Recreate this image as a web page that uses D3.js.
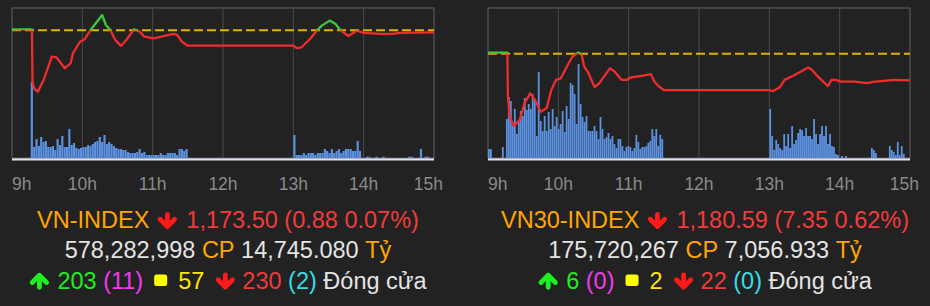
<!DOCTYPE html>
<html>
<head>
<meta charset="utf-8">
<title>VN-INDEX / VN30-INDEX</title>
<script src="https://cdn.jsdelivr.net/npm/d3@7"></script>
<style>
  body { margin: 0; background: #222222; }
  svg { display: block; }
  text { font-family: "Liberation Sans", Arial, sans-serif; }
</style>
</head>
<body>
<div id="chart"></div>
<script>
    // x axis: minutes after 9:00
    var hourTicks = [0, 60, 120, 180, 240, 300, 360];
    var hourLabels = ["9h", "10h", "11h", "12h", "13h", "14h", "15h"];

    // ---- VN-INDEX ----
    var vnRef = 1174.38;
    var vnTime = [0, 17, 17.5, 19, 22, 27, 34, 38, 45, 50, 52, 58, 62, 67, 77, 80, 84, 88, 93, 98,
        104, 109, 113, 121, 129, 138, 141, 145, 150, 240, 243, 247, 254, 260, 264, 271, 276, 280, 287, 294,
        300, 314, 325, 330, 360];
    var vnPrice = [1174.8, 1174.8, 1152.0, 1149.0, 1147.7, 1152.8, 1162.9, 1162.6, 1157.9, 1160.0,
        1164.4, 1169.4, 1170.5, 1174.5, 1181.0, 1176.7, 1174.5, 1170.2, 1167.6, 1170.5,
        1174.8, 1173.8, 1171.6, 1170.9, 1171.9, 1172.8, 1172.3, 1169.4, 1167.7, 1167.7,
        1166.6, 1167.0, 1170.5, 1174.2, 1176.3, 1178.6, 1177.1, 1174.5, 1171.9, 1174.2,
        1173.3, 1172.8, 1172.8, 1173.3, 1173.5];
    // volume bars (relative units), one bar every 2 minutes
    var vnVolAMStart = 16, vnVolPMStart = 240, vnVolStep = 2;
    var vnVolAM = [76, 11, 19, 12, 21, 16, 17, 11, 11, 12, 8, 19, 13, 22, 11, 11, 29, 13, 15, 10,
        9, 10, 11, 11, 13, 12, 14, 16, 17, 21, 16, 23, 14, 16, 14, 12, 10, 9, 9, 8,
        8, 6, 5, 5, 5, 6, 9, 5, 6, 3, 3, 3, 3, 3, 3, 5, 3, 3, 5, 5,
        5, 5, 3, 9, 9, 7, 9];
    var vnVolPM = [23, 3, 3, 3, 5, 3, 5, 5, 5, 3, 5, 5, 5, 9, 7, 5, 9, 5, 7, 9,
        5, 7, 9, 9, 9, 7, 7, 17, 7, 0, 0, 1.3, 1.3, 0, 0, 1.3, 0, 0, 1.3, 0,
        0, 0, 0, 0, 0, 0, 0, 0, 0, 1.3, 1.3, 0, 0, 0, 9, 0, 1.3, 1.3];
    var vnName = "VN-INDEX", vnClose = "1,173.50", vnChange = "(0.88 0.07%)";
    var vnShares = "578,282,998", vnValue = "14,745.080";
    var vnBreadth = ["203", "(11)", "57", "230", "(2)"];

    // ---- VN30-INDEX ----
    var vn30Ref = 1187.94;
    var vn30Time = [0, 16.5, 17, 18.5, 22, 27, 31, 36, 40, 45, 50, 54, 58, 62, 68, 72, 77, 80, 82, 85,
        91, 95, 104, 108, 114, 118, 122, 131, 139, 142, 146, 150, 240, 243, 249, 253, 260, 267, 273, 276,
        283, 290, 293, 297, 301, 313, 323, 330, 347, 360];
    var vn30Price = [1188.2, 1188.2, 1176.1, 1170.5, 1168.0, 1169.6, 1174.2, 1177.0, 1175.2, 1171.9,
        1172.9, 1177.9, 1180.7, 1181.1, 1184.8, 1187.1, 1188.3, 1187.6, 1184.4, 1183.0,
        1178.7, 1179.8, 1183.9, 1183.0, 1180.7, 1180.7, 1181.4, 1181.8, 1182.3, 1180.2,
        1178.8, 1177.9, 1177.9, 1177.6, 1178.7, 1180.7, 1181.8, 1183.0, 1184.1, 1183.6,
        1181.1, 1179.0, 1180.7, 1180.7, 1180.2, 1180.2, 1179.8, 1180.2, 1180.7, 1180.59];
    var vn30VolAMStart = 0, vn30VolPMStart = 240, vn30VolStep = 1.7;
    var vn30VolAM = [9, 9, 0, 0, 0, 0, 0, 11, 0,
        39, 61, 57, 32, 49, 24, 37, 47, 42, 60, 48, 54, 49, 64, 57, 22, 86, 37, 27, 42,
        27, 46, 29, 49, 32, 41, 29, 34, 47, 26, 52, 39, 75, 73, 64, 34, 94, 54, 41, 36,
        42, 27, 27, 27, 32, 27, 19, 41, 29, 19, 21, 25, 19, 22, 14, 10, 19, 19, 12, 7,
        11, 12, 11, 7, 10, 23, 16, 9, 11, 11, 12, 15, 17, 29, 22, 29, 12, 23, 19];
    var vn30VolPM = [49, 22, 8, 18, 14, 10, 8, 24, 12, 24, 10, 32, 14, 18, 25, 29, 28, 22, 30, 22,
        22, 19, 39, 24, 14, 24, 32, 22, 32, 14, 24, 12, 11, 4, 3, 0, 2, 0, 2, 0,
        0, 0, 0, 0, 0, 0, 0, 0, 0, 0, 0, 10, 8, 5, 0, 0, 0, 0, 0, 0,
        12, 8, 6, 3, 16, 3, 12, 4];
    var vn30Name = "VN30-INDEX", vn30Close = "1,180.59", vn30Change = "(7.35 0.62%)";
    var vn30Shares = "175,720,267", vn30Value = "7,056.933";
    var vn30Breadth = ["6", "(0)", "2", "22", "(0)"];

    var ORANGE = "#ffa500", RED = "#f23b3b", WHITE = "#e4e4e4", GREEN = "#1ef01e",
        MAGENTA = "#f03cf0", YELLOW = "#ffe600", CYAN = "#36dde6";

    var svg = d3.select("#chart").append("svg")
        .attr("width", 930)
        .attr("height", 306);

    svg.append("rect").attr("width", 930).attr("height", 306).attr("fill", "#222222");

    function drawPanel(id, left, right, ref, priceDomain, times, prices, volSets) {
        var top = 8, bottom = 158;
        var g = svg.append("g");

        var x = d3.scaleLinear().domain([0, 360]).range([left, right]);
        var y = d3.scaleLinear().domain(priceDomain).range([bottom, top]);
        var yVol = d3.scaleLinear().domain([0, 150]).range([bottom, top]);

        // grid lines
        g.selectAll(".grid")
            .data(hourTicks.slice(1, -1))
            .enter().append("line")
            .attr("x1", d => x(d)).attr("x2", d => x(d))
            .attr("y1", top).attr("y2", bottom)
            .attr("stroke", "#4a4a4a")
            .attr("stroke-width", 1);

        // frame
        g.append("rect")
            .attr("x", left).attr("y", top)
            .attr("width", right - left).attr("height", bottom - top)
            .attr("fill", "none")
            .attr("stroke", "#4d4d4d")
            .attr("stroke-width", 1.5);

        // volume bars
        volSets.forEach(function(set) {
            var w = x(set.step) - x(0);
            g.append("g").selectAll("rect")
                .data(set.values)
                .enter().append("rect")
                .attr("x", (d, i) => x(set.start + i * set.step))
                .attr("y", d => yVol(d))
                .attr("width", Math.max(1, w - 0.2))
                .attr("height", d => bottom - yVol(d))
                .attr("fill", "#5c92e2");
        });

        // bottom light axis
        g.append("rect")
            .attr("x", left).attr("y", bottom + 0.3)
            .attr("width", right - left).attr("height", 2.2)
            .attr("fill", "#dde2ee");

        // reference (dashed)
        g.append("line")
            .attr("x1", left).attr("x2", right)
            .attr("y1", y(ref)).attr("y2", y(ref))
            .attr("stroke", "#e6b000")
            .attr("stroke-width", 2)
            .attr("stroke-dasharray", "9,4");

        // price line: green above ref, red below
        var yr = y(ref);
        var defs = svg.append("defs");
        defs.append("clipPath").attr("id", id + "-up")
            .append("rect").attr("x", left).attr("y", 0).attr("width", right - left).attr("height", yr);
        defs.append("clipPath").attr("id", id + "-down")
            .append("rect").attr("x", left).attr("y", yr).attr("width", right - left).attr("height", 306 - yr);

        var pts = times.map((t, i) => [t, prices[i]]);
        var line = d3.line().x(d => x(d[0])).y(d => y(d[1]));

        g.append("path").datum(pts)
            .attr("d", line)
            .attr("fill", "none")
            .attr("stroke", "#3ec83e")
            .attr("stroke-width", 2.3)
            .attr("stroke-linejoin", "round")
            .attr("clip-path", "url(#" + id + "-up)");
        g.append("path").datum(pts)
            .attr("d", line)
            .attr("fill", "none")
            .attr("stroke", "#f02c2c")
            .attr("stroke-width", 2.3)
            .attr("stroke-linejoin", "round")
            .attr("clip-path", "url(#" + id + "-down)");

        // hour labels
        g.selectAll(".hour")
            .data(hourTicks)
            .enter().append("text")
            .attr("x", (d, i) => i === 0 ? x(d) : (i === hourTicks.length - 1 ? x(d) + 9 : x(d)))
            .attr("y", 190)
            .attr("text-anchor", (d, i) => i === 0 ? "start" : (i === hourTicks.length - 1 ? "end" : "middle"))
            .attr("fill", "#8a8a8a")
            .style("font-size", "17.5px")
            .text((d, i) => hourLabels[i]);
    }

    // little icons used in the summary text
    function drawIcon(g, kind, x0, base, color) {
        if (kind === "down" || kind === "up") {
            var p = d3.path();
            var top = base - 15.5, bot = base + 0.8;
            if (kind === "down") {
                p.moveTo(x0 + 10, top + 2); p.lineTo(x0 + 10, bot - 2.5);
                p.moveTo(x0 + 2.8, bot - 9.5); p.lineTo(x0 + 10, bot - 2.3); p.lineTo(x0 + 17.2, bot - 9.5);
            } else {
                p.moveTo(x0 + 10, bot - 2); p.lineTo(x0 + 10, top + 2.5);
                p.moveTo(x0 + 2.8, top + 9.5); p.lineTo(x0 + 10, top + 2.3); p.lineTo(x0 + 17.2, top + 9.5);
            }
            g.append("path")
                .attr("d", p.toString())
                .attr("fill", "none")
                .attr("stroke", color)
                .attr("stroke-width", 4.8)
                .attr("stroke-linecap", "round")
                .attr("stroke-linejoin", "round");
        } else {
            g.append("rect")
                .attr("x", x0).attr("y", base - 14)
                .attr("width", 13).attr("height", 11.5)
                .attr("rx", 2.5)
                .attr("fill", color);
        }
    }

    var rowBase = [228, 258, 288.5];
    var fontSize = 23.5;

    function drawSummary(cx, rows) {
        var g = svg.append("g");
        rows.forEach(function(row, r) {
            var base = rowBase[r];
            var items = [];
            var prevText = false;
            row.forEach(function(seg) {
                if (seg.icon) {
                    items.push({seg: seg, gap: seg.padL, w: seg.w, after: seg.padR});
                    prevText = false;
                } else {
                    var t = g.append("text")
                        .attr("y", base)
                        .attr("fill", seg.color)
                        .style("font-size", fontSize + "px")
                        .text(seg.text);
                    items.push({seg: seg, node: t, gap: prevText ? fontSize * 0.278 : 0,
                        w: t.node().getComputedTextLength(), after: 0});
                    prevText = true;
                }
            });
            var total = d3.sum(items, d => d.gap + d.w + d.after);
            var cur = cx - total / 2;
            items.forEach(function(it) {
                cur += it.gap;
                if (it.node) it.node.attr("x", cur);
                else drawIcon(g, it.seg.icon, cur, base, it.seg.color);
                cur += it.w + it.after;
            });
        });
    }

    function summaryRows(name, close, change, shares, value, breadth) {
        return [
            [{text: name, color: ORANGE},
             {icon: "down", color: "#ff1a1a", w: 20, padL: 8, padR: 9},
             {text: close + " " + change, color: RED}],
            [{text: shares, color: WHITE}, {text: "CP", color: ORANGE},
             {text: value, color: WHITE}, {text: "Tỷ", color: ORANGE}],
            [{icon: "up", color: GREEN, w: 20, padL: 0, padR: 8},
             {text: breadth[0], color: GREEN}, {text: breadth[1], color: MAGENTA},
             {icon: "square", color: "#ffff00", w: 13, padL: 11, padR: 11},
             {text: breadth[2], color: YELLOW},
             {icon: "down", color: "#ff1a1a", w: 20, padL: 11, padR: 7},
             {text: breadth[3], color: RED}, {text: breadth[4], color: CYAN},
             {text: "Đóng cửa", color: WHITE}]
        ];
    }

    drawPanel("vn", 12, 434, vnRef, [1118.86, 1184.08], vnTime, vnPrice, [
        {start: vnVolAMStart, step: vnVolStep, values: vnVolAM},
        {start: vnVolPMStart, step: vnVolStep, values: vnVolPM}
    ]);
    drawPanel("vn30", 488, 910, vn30Ref, [1159.13, 1200.56], vn30Time, vn30Price, [
        {start: vn30VolAMStart, step: vn30VolStep, values: vn30VolAM},
        {start: vn30VolPMStart, step: vn30VolStep, values: vn30VolPM}
    ]);

    drawSummary(228, summaryRows(vnName, vnClose, vnChange, vnShares, vnValue, vnBreadth));
    drawSummary(705, summaryRows(vn30Name, vn30Close, vn30Change, vn30Shares, vn30Value, vn30Breadth));
</script>
</body>
</html>
